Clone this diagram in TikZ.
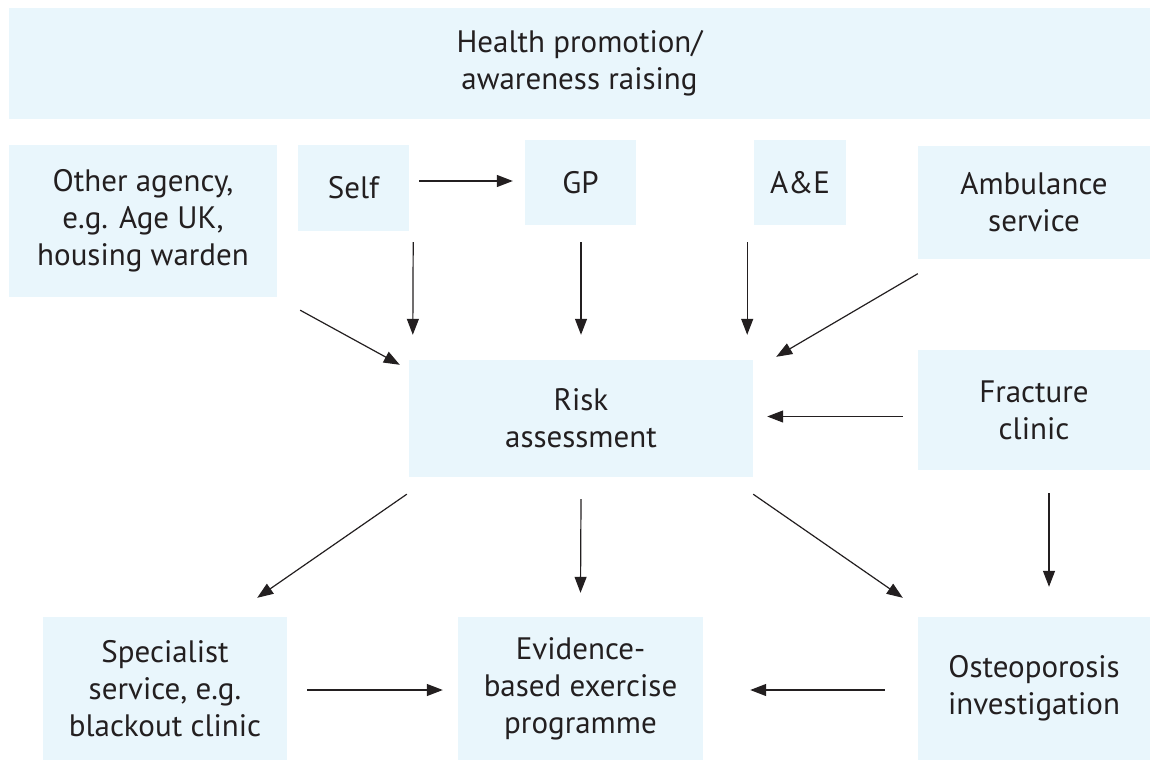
\documentclass[tikz,border=0pt]{standalone}
\usepackage{fontspec}
\setmainfont{PT Sans}
\usepackage{tikz}
\usetikzlibrary{arrows.meta, calc}
\definecolor{boxblue}{RGB}{233,246,252}
\definecolor{inkgrey}{RGB}{35,31,32}

\begin{document}
\begin{tikzpicture}[x=1pt, y=-1pt, font=\fontsize{31}{37}\selectfont, text=inkgrey]
		\tikzstyle{box} = [rectangle, fill=boxblue, inner sep=0pt, align=center]
		
		\tikzstyle{arrow} = [-{Triangle[length=16pt, width=12pt]}, draw=inkgrey, line width=1.2pt]
		%-------------------------------------------------------
		\useasboundingbox (0,0) rectangle (1150,760);
		% Boxes of the figure
		\node (health) [box, minimum width=1141pt, minimum height=111pt] at (579.5,63.5) {Health promotion/\\awareness raising};
		
		\node (other) [box, minimum width=268pt, minimum height=152pt] at (143,221) {Other agency,\\e.g. Age UK,\\housing warden};
		\node (self) [box, minimum width=111pt, minimum height=86pt] at (353.5,188) {Self};
		\node (gp) [box, minimum width=111pt, minimum height=85pt] at (580.5,182.5) {GP};
		\node (ae) [box, minimum width=92pt, minimum height=85pt] at (800,182.5) {A\&E};
		\node (amb) [box, minimum width=232pt, minimum height=113pt] at (1034,202) {Ambulance\\service};
		
		\node (risk) [box, minimum width=344pt, minimum height=117pt] at (581,418.5) {Risk\\assessment};
		\node (frac) [box, minimum width=232pt, minimum height=120pt] at (1034,410) {Fracture\\clinic};
		
		\node (spec) [box, minimum width=244pt, minimum height=143pt] at (165,688.5) {Specialist\\service, e.g.\\blackout clinic};
		\node (evid) [box, minimum width=245pt, minimum height=143pt] at (580.5,688.5) {Evidence-\\based exercise\\programme};
		\node (osteo) [box, minimum width=232pt, minimum height=143pt] at (1034,688.5) {Osteoporosis\\investigation};
		
		% Arrows
		\draw [arrow] ($(self.east |- 0,181)+(10,0)$) -- ($(gp.west |- 0,181)+(-12,0)$);
		
		\draw [arrow] ($(self.south east)+(4,11)$) -- ($(risk.north west)+(4,-25)$);
		\draw [arrow] ($(risk.north |- gp.south)+(0,17)$) -- ($(risk.north)+(0,-25)$);
		\draw [arrow] ($(risk.north east |- ae.south)+(-6,17)$) -- ($(risk.north east)+(-6,-25)$);
		
		\draw [arrow] ($(other.south east)+(23,13)$) -- ($(risk.north west)+(-9,5)$);
		\draw [arrow] ($(amb.south west)+(0,15)$) -- ($(risk.north east)+(23,-3)$);
		\draw [arrow] ($(frac.west |- risk.east)+(-15,-2)$) -- ($(risk.east)+(14,-2)$);
		
		\draw [arrow] ($(risk.south west)+(-2,17)$) -- ($(spec.north east)+(-30,-19)$);
		\draw [arrow] ($(risk.south)+(0,22)$) -- ($(evid.north)+(0,-24)$);
		\draw [arrow] ($(risk.south east)+(0,17)$) -- ($(osteo.north west)+(-15,-19)$);
		\draw [arrow] ($(frac.south)+(15,23)$) -- ($(osteo.north)+(15,-30)$);
		
		\draw [arrow] ($(spec.east)+(20,1.5)$) -- ($(evid.west)+(-15,1.5)$);
		\draw [arrow] ($(osteo.west)+(-33,1.5)$) -- ($(evid.east)+(47,1.5)$);
\end{tikzpicture}
\end{document}
